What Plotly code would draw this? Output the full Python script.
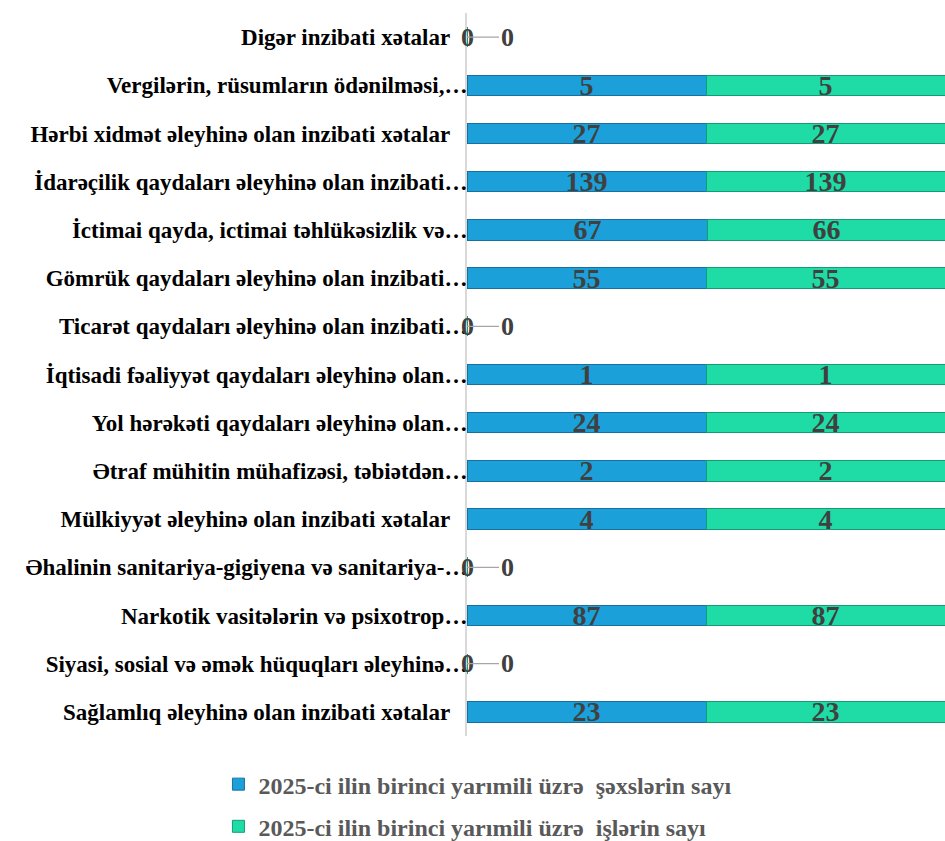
import plotly.graph_objects as go

categories = [
    "Sağlamlıq əleyhinə olan inzibati xətalar\u00a0\u00a0\u00a0",
    "Siyasi, sosial və əmək hüquqları əleyhinə…",
    "Narkotik vasitələrin və psixotrop…",
    "Əhalinin sanitariya-gigiyena və sanitariya-…",
    "Mülkiyyət əleyhinə olan inzibati xətalar\u00a0\u00a0\u00a0",
    "Ətraf mühitin mühafizəsi, təbiətdən…",
    "Yol hərəkəti qaydaları əleyhinə olan…",
    "İqtisadi fəaliyyət qaydaları əleyhinə olan…",
    "Ticarət qaydaları əleyhinə olan inzibati…",
    "Gömrük qaydaları əleyhinə olan inzibati…",
    "İctimai qayda, ictimai təhlükəsizlik və…",
    "İdarəçilik qaydaları əleyhinə olan inzibati…",
    "Hərbi xidmət əleyhinə olan inzibati xətalar\u00a0\u00a0\u00a0",
    "Vergilərin, rüsumların ödənilməsi,…",
    "Digər inzibati xətalar\u00a0\u00a0\u00a0",
]
persons = [23, 0, 87, 0, 4, 2, 24, 1, 0, 55, 67, 139, 27, 5, 0]
cases = [23, 0, 87, 0, 4, 2, 24, 1, 0, 55, 66, 139, 27, 5, 0]
series_names = [
    "2025-ci ilin birinci yarımili üzrə  şəxslərin sayı",
    "2025-ci ilin birinci yarımili üzrə  işlərin sayı",
]

serif = "Liberation Serif"
label_col = "#404040"

totals = [p + c for p, c in zip(persons, cases)]


def share(vals):
    return [v / t * 100 if t else 0 for v, t in zip(vals, totals)]


fig = go.Figure()
for name, vals, col, edge, grp in [
    (series_names[0], persons, "#1BA0DA", "#17709F", "a"),
    (series_names[1], cases, "#1FDBA6", "#159C76", "b"),
]:
    fig.add_trace(go.Bar(
        y=categories, x=share(vals), orientation="h", name="<b>" + name + "</b>",
        legendgroup=grp,
        marker=dict(color=col, line=dict(color=edge, width=1)),
        text=[str(v) if v else "" for v in vals],
        texttemplate="<b>%{text}</b>",
        textposition="inside", insidetextanchor="middle",
        constraintext="none", textangle=0,
        textfont=dict(family=serif, size=28, color=label_col),
    ))

annotations = []
for i, (p, c) in enumerate(zip(persons, cases)):
    if p == 0:
        annotations.append(dict(x=0, y=categories[i], text="<b>0</b>", showarrow=False,
                                xanchor="center", yanchor="middle",
                                font=dict(family=serif, size=26, color=label_col)))
    if c == 0:
        annotations.append(dict(x=0, y=categories[i], text="<b>0</b>", showarrow=True,
                                arrowhead=0, arrowwidth=1.2, arrowcolor="#A6A6A6",
                                ax=40, ay=0,
                                font=dict(family=serif, size=26, color=label_col)))

fig.update_layout(
    barmode="stack", bargap=0.58,
    width=945, height=841,
    margin=dict(l=467, r=0, t=13, b=105, autoexpand=False),
    plot_bgcolor="white", paper_bgcolor="white",
    font=dict(family=serif),
    xaxis=dict(visible=False, range=[0, 100]),
    yaxis=dict(type="category", showline=True, linecolor="#D9D9D9", linewidth=2, showgrid=False,
               ticks="", automargin=False, ticklabelstandoff=-7,
               tickvals=categories, ticktext=["<b>" + c + "</b>" for c in categories],
               tickfont=dict(family=serif, size=23, color="#000000"),
               range=[-0.5, 14.5]),
    legend=dict(orientation="v",
                x=-0.52, xanchor="left", y=-0.036, yanchor="top",
                tracegroupgap=8,
                font=dict(family=serif, size=24, color="#595959"),
                traceorder="grouped"),
    annotations=annotations,
    showlegend=True,
)

fig.write_html("out.html", config={"responsive": False, "displayModeBar": False},
               post_script="document.body.style.margin='0';document.body.style.overflow='hidden';")
